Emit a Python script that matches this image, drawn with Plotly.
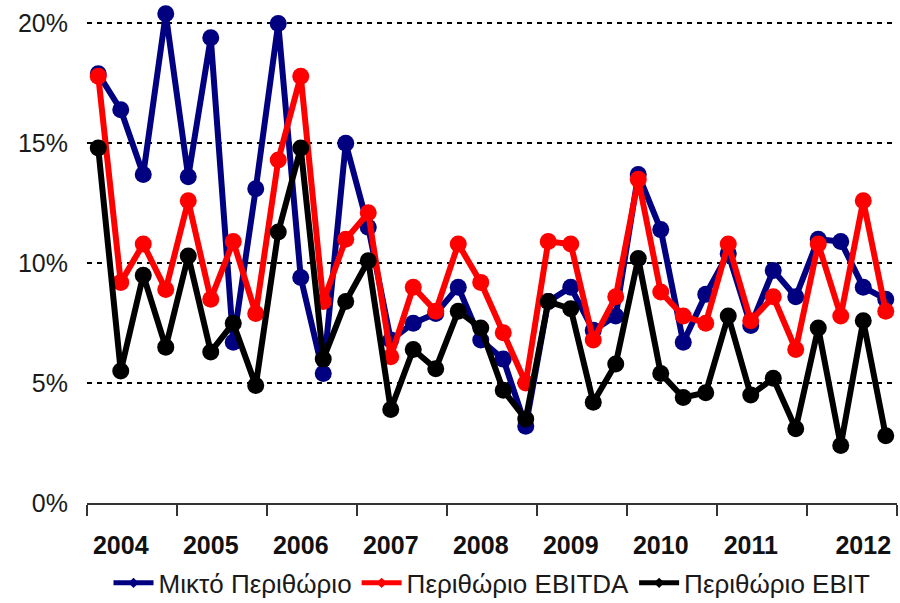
import plotly.graph_objects as go

years = ["2004", "2005", "2006", "2007", "2008", "2009", "2010", "2011", "2012"]
quarters = [f"{y} Q{q}" for y in years for q in range(1, 5)]

gross_margin = [17.9, 16.4, 13.7, 20.4, 13.6, 19.4, 6.7, 13.1, 20.0, 9.4, 5.4, 15.0,
                11.5, 6.8, 7.5, 7.9, 9.0, 6.8, 6.0, 3.2, 8.4, 9.0, 7.2, 7.8,
                13.7, 11.4, 6.7, 8.7, 10.4, 7.4, 9.7, 8.6, 11.0, 10.9, 9.0, 8.5]
ebitda_margin = [17.8, 9.2, 10.8, 8.9, 12.6, 8.5, 10.9, 7.9, 14.3, 17.8, 8.4, 11.0,
                 12.1, 6.1, 9.0, 8.0, 10.8, 9.2, 7.1, 5.0, 10.9, 10.8, 6.8, 8.6,
                 13.5, 8.8, 7.8, 7.5, 10.8, 7.6, 8.6, 6.4, 10.8, 7.8, 12.6, 8.0]
ebit_margin = [14.8, 5.5, 9.5, 6.5, 10.3, 6.3, 7.5, 4.9, 11.3, 14.8, 6.0, 8.4,
               10.1, 3.9, 6.4, 5.6, 8.0, 7.3, 4.7, 3.5, 8.4, 8.1, 4.2, 5.8,
               10.2, 5.4, 4.4, 4.6, 7.8, 4.5, 5.2, 3.1, 7.3, 2.4, 7.6, 2.8]

series_names = ["Μικτό Περιθώριο", "Περιθώριο EBITDA", "Περιθώριο EBIT"]
series_values = [gross_margin, ebitda_margin, ebit_margin]
colors = ["#000080", "#ff0000", "#000000"]

y_ticks = [0, 5, 10, 15, 20]
y_ticktext = [f"{v}%" for v in y_ticks]

# year label position: quarter index within year (Q2), last year shown at Q3
label_quarter = [1, 1, 1, 1, 1, 1, 1, 1, 2]

x = list(range(len(quarters)))
year_label_pos = [4 * i + q for i, q in enumerate(label_quarter)]
year_bounds = [4 * i - 0.5 for i in range(len(years) + 1)]

FONT = "Liberation Sans, Arial, sans-serif"
Y_MAX = 20.6
plot_h = 603 - 100 - 8.6

fig = go.Figure()
for name, vals, c in zip(series_names, series_values, colors):
    fig.add_trace(go.Scatter(
        x=x, y=vals, mode="lines+markers", name=name, showlegend=False,
        line=dict(color=c, width=6),
        marker=dict(color=c, size=17, symbol="circle"),
        cliponaxis=False,
    ))
for name, c in zip(series_names, colors):
    fig.add_trace(go.Scatter(
        x=[None], y=[None], mode="lines+markers", name=name,
        line=dict(color=c, width=5),
        marker=dict(color=c, size=8, symbol="diamond"),
    ))

fig.update_layout(
    width=900, height=603,
    margin=dict(l=87, r=3, t=8.6, b=100, autoexpand=False),
    plot_bgcolor="white", paper_bgcolor="white",
    font=dict(family=FONT, color="#1a1a1a"),
    showlegend=True,
    legend=dict(orientation="h", x=0.5, xanchor="center",
                y=-(583 - 503) / plot_h, yanchor="middle",
                font=dict(size=26, family=FONT, color="#1a1a1a"),
                itemwidth=40, tracegroupgap=0),
    xaxis=dict(
        range=[-0.5, len(quarters) - 0.5],
        showgrid=False, zeroline=False,
        showline=True, linecolor="#333333", linewidth=2,
        tickmode="array", tickvals=year_label_pos, ticktext=years,
        ticks="", ticklabelstandoff=19,
        tickfont=dict(size=25, family=FONT, color="#111111", weight="bold"),
        minor=dict(tickmode="array", tickvals=year_bounds, ticks="outside",
                   ticklen=11, tickwidth=2, tickcolor="#333333", showgrid=False),
    ),
    yaxis=dict(
        range=[0, Y_MAX], tickmode="array", tickvals=y_ticks, ticktext=y_ticktext,
        showgrid=True, gridcolor="#000000", gridwidth=1.5, griddash="5px,5px",
        zeroline=False, showline=False, ticks="",
        ticklabelstandoff=18,
        tickfont=dict(size=25, family=FONT, color="#1a1a1a"),
    ),
)

fig.write_html("out.html", config={"displayModeBar": False},
               post_script="document.body.style.margin='0px';")
